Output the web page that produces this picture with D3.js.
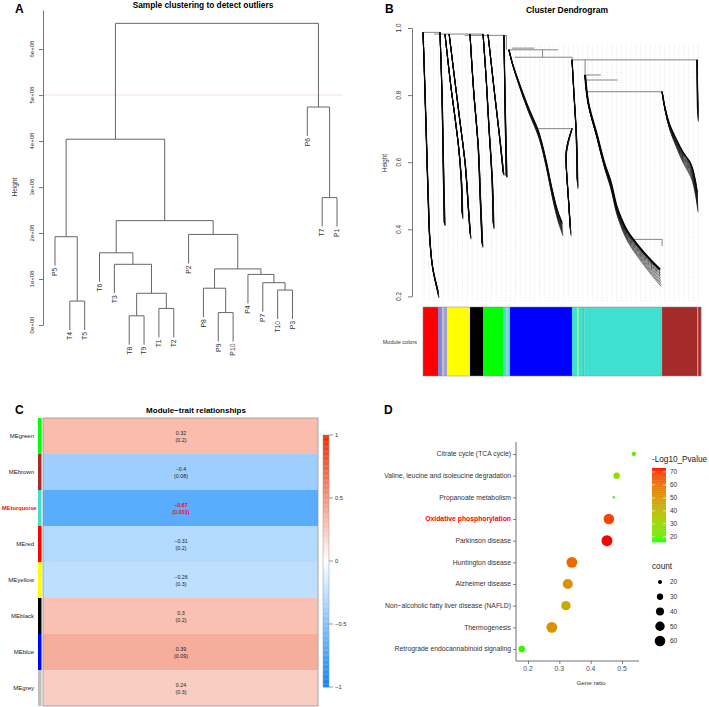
<!DOCTYPE html>
<html><head><meta charset="utf-8">
<script src="https://cdn.jsdelivr.net/npm/d3@7"></script>
<style>body{margin:0;background:#fff}svg{display:block}text{font-family:"Liberation Sans",Arial,sans-serif}</style>
</head><body>
<svg id="fig" width="709" height="707"></svg>
<script>
// ---------- Panel A data ----------
const sampleLabels = ["P5","T4","T5","T6","T3","T8","T9","T1","T2","P2","P8","P9","P10","P4","P7","T10","P3","P6","T7","P1"];
// merges: [left, right, height]; string = sample, number = earlier merge index
const sampleMerges = [
  ["T4","T5",0.52e8], [ "P5",0,1.92e8], ["T8","T9",0.20e8], ["T1","T2",0.36e8],
  [2,3,0.69e8], ["T3",4,1.32e8], ["T6",5,1.57e8], ["P9","P10",0.27e8],
  ["P8",7,0.80e8], ["T10","P3",0.76e8], ["P7",9,0.92e8], ["P4",10,1.10e8],
  [8,11,1.22e8], ["P2",12,1.97e8], [6,13,2.27e8], [1,14,4.04e8],
  ["T7","P1",2.77e8], ["P6",16,4.74e8], [15,17,6.56e8]
];
const sampleTicks = [0,1e8,2e8,3e8,4e8,5e8,6e8];
const cutHeight = 5e8;

// ---------- Panel B data (gene order 0..1000, height) ----------
const geneBranches = [
  [[0,0.987],[3.6,0.9],[10.8,0.7],[18,0.5],[25,0.36],[36,0.28],[47,0.24],[54,0.215]],
  [[61,0.987],[68,0.8],[72,0.6],[76,0.42]],
  [[79,0.982],[101,0.82],[126,0.66],[137,0.55],[140,0.45]],
  [[94,0.982],[112,0.86],[133,0.72],[151,0.6],[162,0.47],[169,0.39]],
  [[169,0.982],[183,0.8],[198,0.65],[205,0.5],[212,0.36]],
  [[216,0.982],[227,0.85],[237,0.7],[248,0.55],[252,0.42]],
  [[234,0.98],[255,0.82],[277,0.66],[288,0.57]],
  [[291,0.978],[295,0.75],[299,0.56]],
  [[309,0.935],[320,0.9],[342,0.845],[378,0.765],[414,0.695],[442,0.607],[464,0.52],[486,0.45],[500,0.42]],
  [[536,0.70],[514,0.62],[522,0.5],[529,0.41]],
  [[536,0.905],[543,0.8],[550,0.7],[554,0.55]],
  [[583,0.86],[594,0.78],[626,0.68],[655,0.59],[673,0.547],[701,0.457],[737,0.392],[781,0.344],[817,0.31],[853,0.28]],
  [[860,0.81],[871,0.76],[888,0.71],[910,0.67],[935,0.63],[960,0.6],[978,0.55],[986,0.51]],
  [[986,0.905],[986,0.85],[987,0.76]]
];
const geneSpread = [0.02,0.01,0.02,0.02,0.015,0.02,0.01,0.005,0.04,0.03,0.03,0.05,0.06,0.04];
const geneWidth = [1.1,0.9,0.9,0.9,1.1,0.9,0.9,0.9,1.2,0.9,0.9,2.0,1.4,1.0];
const geneHair = [3,2,3,3,3,3,2,2,5,5,4,5,7,4];       // typical hair length (px)
const hairPattern = [0.4,1,0.25,0.7,1.3,0.5,0.9,0.3,1.1,0.6];
const mergeH = [[0,61,0.987],[40,216,0.982],[150,300,0.978],[309,486,0.935],[320,400,0.94],[330,536,0.913],
  [536,986,0.905],[583,640,0.86],[583,700,0.845],[590,860,0.81],[414,536,0.70],[750,860,0.37]];
const mergeV = [[300,0.978,0.935],[430,0.935,0.913],[536,0.913,0.905],[583,0.905,0.86],[860,0.37,0.35]];
const moduleSegments = [
  [0,54,"#FF0000"],[54,68,"#8585d8"],[68,76,"#BEBEBE"],[76,86,"#9a9ae0"],[86,169,"#FFFF00"],
  [169,216,"#000000"],[216,288,"#00FF00"],[288,300,"#40E0D0"],[300,306,"#BEBEBE"],[306,313,"#40E0D0"],
  [313,536,"#0000FF"],[536,556,"#40E0D0"],[556,559,"#FFFF00"],[559,576,"#40E0D0"],[576,580,"#999999"],
  [580,590,"#40E0D0"],[590,860,"#40E0D0"],[860,986,"#A52A2A"],[986,990,"#FF7F3F"],[990,1000,"#A52A2A"]
];
const geneTicks = [0.2,0.4,0.6,0.8,1.0];

// ---------- Panel C data ----------
const traitModules = ["MEgreen","MEbrown","MEturquoise","MEred","MEyellow","MEblack","MEblue","MEgrey"];
const moduleSwatch = ["#00FF00","#A52A2A","#40E0D0","#FF0000","#FFFF00","#000000","#0000FF","#BEBEBE"];
const traitCor = [0.32,-0.4,-0.67,-0.31,-0.26,0.3,0.39,0.24];
const traitP = ["0.2","0.08","0.001","0.2","0.3","0.2","0.09","0.3"];
const corTicks = [1,0.5,0,-0.5,-1];

// ---------- Panel D data ----------
const pathways = ["Citrate cycle (TCA cycle)","Valine, leucine and isoleucine degradation","Propanoate metabolism",
  "Oxidative phosphorylation","Parkinson disease","Huntington disease","Alzheimer disease",
  "Non\u2212alcoholic fatty liver disease (NAFLD)","Thermogenesis","Retrograde endocannabinoid signaling"];
const geneRatio = [0.538,0.483,0.474,0.458,0.452,0.340,0.327,0.321,0.276,0.180];
const geneCount = [21,30,16,60,63,62,55,50,62,31];
const logP = [20,28,19,68,73,62,52,45,52,17];
const ratioTicks = [0.2,0.3,0.4,0.5];
const pTicks = [20,30,40,50,60,70];
const countTicks = [20,30,40,50,60];

const svg = d3.select("#fig");
const fmtMinus = s => String(s).replace("-","\u2212");

// ================= Panel A =================
{
  const g = svg.append("g");
  const yA = d3.scaleLinear().domain([0,6.85e8]).range([325,10]);
  const xA = d3.scalePoint().domain(sampleLabels).range([55,337]);
  const hang = 0.63e8;
  g.append("text").attr("x",15).attr("y",12.7).attr("font-size",12).attr("font-weight","bold").text("A");
  g.append("text").attr("x",203).attr("y",8).attr("text-anchor","middle").attr("font-size",8.3).attr("font-weight","bold").text("Sample clustering to detect outliers");
  g.append("line").attr("x1",43).attr("x2",343).attr("y1",yA(cutHeight)).attr("y2",yA(cutHeight)).attr("stroke","#f7d4d4").attr("stroke-width",0.8);
  const ax = g.append("g").attr("transform","translate(43,0)").call(d3.axisLeft(yA).tickValues(sampleTicks).tickSize(4).tickSizeOuter(0).tickFormat(()=>""));
  ax.selectAll("path,line").attr("stroke","#555").attr("stroke-width",0.8);
  sampleTicks.forEach(t=>{
    g.append("text").attr("transform",`translate(34,${yA(t)}) rotate(-90)`).attr("text-anchor","middle").attr("font-size",6).attr("fill","#333")
      .text(t===0?"0e+00":(t/1e8)+"e+08");
  });
  g.append("text").attr("transform","translate(17,187) rotate(-90)").attr("text-anchor","middle").attr("font-size",6.5).attr("fill","#333").text("Height");
  const nodeX=[], nodeH=[];
  const xOf = n => typeof n==="string" ? xA(n) : nodeX[n];
  sampleMerges.forEach(([a,b,h],i)=>{
    nodeX[i]=(xOf(a)+xOf(b))/2; nodeH[i]=h;
    [a,b].forEach(c=>{
      const t = typeof c==="string" ? h-hang : nodeH[c];
      g.append("line").attr("x1",xOf(c)).attr("x2",xOf(c)).attr("y1",yA(h)).attr("y2",yA(t)).attr("stroke","#666").attr("stroke-width",1);
      if (typeof c==="string")
        g.append("text").attr("transform",`translate(${xOf(c)+2.3},${yA(t)+2}) rotate(-90)`).attr("text-anchor","end")
          .attr("font-size",6.8).attr("fill","#333").text(c);
    });
    g.append("line").attr("x1",xOf(a)).attr("x2",xOf(b)).attr("y1",yA(h)).attr("y2",yA(h)).attr("stroke","#666").attr("stroke-width",1);
  });
}

// ================= Panel B =================
{
  const g = svg.append("g");
  const yB = d3.scaleLinear().domain([0.2,1]).range([296.4,28]);
  const xB = d3.scaleLinear().domain([0,1000]).range([423,701]);
  g.append("text").attr("x",385).attr("y",12.7).attr("font-size",12).attr("font-weight","bold").text("B");
  g.append("text").attr("x",567).attr("y",13).attr("text-anchor","middle").attr("font-size",8.5).attr("font-weight","bold").text("Cluster Dendrogram");
  const ax = g.append("g").attr("transform","translate(412,0)").call(d3.axisLeft(yB).tickValues(geneTicks).tickSize(4).tickSizeOuter(0).tickFormat(()=>""));
  ax.selectAll("path,line").attr("stroke","#555").attr("stroke-width",0.8);
  geneTicks.forEach(t=>{
    g.append("text").attr("transform",`translate(401,${yB(t)}) rotate(-90)`).attr("text-anchor","middle").attr("font-size",6.3).attr("fill","#333").text(t.toFixed(1));
  });
  g.append("text").attr("transform","translate(387,163) rotate(-90)").attr("text-anchor","middle").attr("font-size",6.3).attr("fill","#333").text("Height");
  // faint leaf guide lines
  d3.range(4,1000,17.3).forEach(v=>{
    g.append("line").attr("x1",xB(v)).attr("x2",xB(v)).attr("y1",yB(0.95)).attr("y2",yB(0.185))
      .attr("stroke","#d4d4d4").attr("stroke-width",0.6).attr("stroke-dasharray","1,1.5");
  });
  mergeH.forEach(([a,b,h])=>g.append("line").attr("x1",xB(a)).attr("x2",xB(b)).attr("y1",yB(h)).attr("y2",yB(h)).attr("stroke","#777").attr("stroke-width",0.9));
  mergeV.forEach(([x,h1,h2])=>g.append("line").attr("x1",xB(x)).attr("x2",xB(x)).attr("y1",yB(h1)).attr("y2",yB(h2)).attr("stroke","#777").attr("stroke-width",0.9));
  const line = d3.line().x(d=>xB(d[0])).y(d=>yB(d[1])).curve(d3.curveMonotoneY);
  geneBranches.forEach((pts,i)=>{
    const n = pts.length, K = 10;
    for (let k=K;k>=0;k--){
      const p = pts.map((d,j)=>[d[0]+k*0.35*(j/(n-1)), d[1]-geneSpread[i]*(k/K)*(j/(n-1))]);
      g.append("path").attr("d",line(p)).attr("fill","none").attr("stroke",k===0?"#000":"#151515")
        .attr("stroke-width",k===0?geneWidth[i]:0.55);
    }
    // hanging hairs along the branch
    const path = g.append("path").attr("d",line(pts)).attr("fill","none").attr("stroke","none").node();
    const L = path.getTotalLength();
    let c = 0;
    for (let s=2; s<L; s+=1.6, c++){
      const pt = path.getPointAtLength(s);
      const frac = s/L;
      const len = geneHair[i]*hairPattern[c%hairPattern.length]*(0.4+frac);
      g.append("line").attr("x1",pt.x+0.4).attr("x2",pt.x+0.4).attr("y1",pt.y).attr("y2",pt.y+len)
        .attr("stroke","#111").attr("stroke-width",0.45);
    }
  });
  moduleSegments.forEach(([a,b,c])=>g.append("rect").attr("x",xB(a)).attr("width",xB(b)-xB(a)+0.2).attr("y",307).attr("height",69).attr("fill",c));
  g.append("rect").attr("x",xB(0)).attr("y",307).attr("width",xB(1000)-xB(0)).attr("height",69).attr("fill","none").attr("stroke","#888").attr("stroke-width",0.5);
  g.append("text").attr("x",417).attr("y",344).attr("text-anchor","end").attr("font-size",5.5).attr("fill","#333").text("Module colors");
}

// ================= Panel C =================
{
  const g = svg.append("g");
  const color = d3.scaleLinear().domain([-1,0,1]).range(["rgb(9,133,250)","#ffffff","rgb(235,45,0)"]);
  const yC = d3.scaleBand().domain(traitModules).range([418,706]);
  g.append("text").attr("x",15).attr("y",414).attr("font-size",12).attr("font-weight","bold").text("C");
  g.append("text").attr("x",196).attr("y",413).attr("text-anchor","middle").attr("font-size",8).attr("font-weight","bold").text("Module\u2212trait relationships");
  traitModules.forEach((m,i)=>{
    const y = yC(m), h = yC.bandwidth();
    g.append("rect").attr("x",43).attr("y",y).attr("width",275).attr("height",h).attr("fill",color(traitCor[i]));
    g.append("rect").attr("x",38).attr("y",y).attr("width",3.5).attr("height",h).attr("fill",moduleSwatch[i]);
    const hi = m==="MEturquoise";
    g.append("text").attr("x",hi?36.5:34).attr("y",y+h/2+2).attr("text-anchor","end").attr("font-size",hi?5.7:6)
      .attr("font-weight",hi?"bold":"normal").attr("fill",hi?"#ff0000":"#222").text(m);
    g.append("text").attr("x",181).attr("y",y+h/2-1).attr("text-anchor","middle").attr("font-size",5.3)
      .attr("font-weight",hi?"bold":"normal").attr("fill",hi?"#ff0000":"#222").text(fmtMinus(traitCor[i]));
    g.append("text").attr("x",181).attr("y",y+h/2+5.5).attr("text-anchor","middle").attr("font-size",5.3)
      .attr("font-weight",hi?"bold":"normal").attr("fill",hi?"#ff0000":"#222").text(`(${traitP[i]})`);
  });
  g.append("rect").attr("x",43).attr("y",418).attr("width",275).attr("height",288).attr("fill","none").attr("stroke","#999").attr("stroke-width",0.8);
  // colour bar
  const yL = d3.scaleLinear().domain([1,-1]).range([435,687]);
  d3.range(-1,1,0.01).forEach(v=>g.append("rect").attr("x",323).attr("y",yL(v+0.01)).attr("width",6).attr("height",yL(v)-yL(v+0.01)+0.3).attr("fill",color(v+0.005)));
  g.append("rect").attr("x",323).attr("y",435).attr("width",6).attr("height",252).attr("fill","none").attr("stroke","#999").attr("stroke-width",0.5);
  corTicks.forEach(t=>{
    g.append("line").attr("x1",329).attr("x2",333).attr("y1",yL(t)).attr("y2",yL(t)).attr("stroke","#555").attr("stroke-width",0.6);
    g.append("text").attr("x",335).attr("y",yL(t)+2).attr("font-size",5.8).attr("fill","#333").text(fmtMinus(t));
  });
}

// ================= Panel D =================
{
  const g = svg.append("g");
  const xD = d3.scaleLinear().domain([0.2,0.5]).range([528,622]);
  const yD = d3.scalePoint().domain(pathways).range([454,649]);
  const col = d3.scaleLinear().domain([16,73]).range(["#00ff00","#ff0000"]).interpolate(d3.interpolateLab);
  const rad = d3.scaleRadial().domain([20,60]).range([2,5.3]);
  g.append("text").attr("x",384).attr("y",414).attr("font-size",12).attr("font-weight","bold").text("D");
  const ya = g.append("g").attr("transform","translate(516,0)").call(d3.axisLeft(yD).tickSize(3).tickSizeOuter(0).tickFormat(()=>""));
  ya.select(".domain").remove();
  ya.selectAll("line").attr("stroke","#333").attr("stroke-width",0.6);
  g.append("line").attr("x1",516).attr("x2",516).attr("y1",442).attr("y2",661).attr("stroke","#333").attr("stroke-width",0.7);
  g.append("line").attr("x1",516).attr("x2",639).attr("y1",661).attr("y2",661).attr("stroke","#333").attr("stroke-width",0.7);
  const xa = g.append("g").attr("transform","translate(0,661)").call(d3.axisBottom(xD).tickValues(ratioTicks).tickSize(3).tickSizeOuter(0).tickFormat(()=>""));
  xa.select(".domain").remove();
  xa.selectAll("line").attr("stroke","#333").attr("stroke-width",0.6);
  ratioTicks.forEach(t=>g.append("text").attr("x",xD(t)).attr("y",671).attr("text-anchor","middle").attr("font-size",6.8).attr("fill","#4d4d4d").text(t.toFixed(1)));
  pathways.forEach((p,i)=>{
    const hi = p==="Oxidative phosphorylation";
    g.append("text").attr("x",511).attr("y",yD(p)+2.4).attr("text-anchor","end").attr("font-size",6.8)
      .attr("font-weight",hi?"bold":"normal").attr("fill",hi?"#ff0000":"#333").text(p);
  });
  g.append("text").attr("x",591).attr("y",685).attr("text-anchor","middle").attr("font-size",6.2).attr("fill","#333").text("Gene ratio");
  pathways.forEach((p,i)=>g.append("circle").attr("cx",xD(geneRatio[i])).attr("cy",yD(p)).attr("r",rad(geneCount[i])).attr("fill",col(logP[i])));
  // colour legend
  g.append("text").attr("x",652).attr("y",462).attr("font-size",8.2).attr("fill","#222").text("-Log10_Pvalue");
  const yP = d3.scaleLinear().domain([73,16]).range([468,542]);
  d3.range(16,73,0.5).forEach(v=>g.append("rect").attr("x",652).attr("y",yP(v+0.5)).attr("width",14).attr("height",yP(v)-yP(v+0.5)+0.3).attr("fill",col(v+0.25)));
  pTicks.forEach(t=>{
    g.append("line").attr("x1",652).attr("x2",655).attr("y1",yP(t)).attr("y2",yP(t)).attr("stroke","#fff").attr("stroke-width",0.6);
    g.append("line").attr("x1",663).attr("x2",666).attr("y1",yP(t)).attr("y2",yP(t)).attr("stroke","#fff").attr("stroke-width",0.6);
    g.append("text").attr("x",670).attr("y",yP(t)+2.3).attr("font-size",6.5).attr("fill","#333").text(t);
  });
  // size legend
  g.append("text").attr("x",652).attr("y",569).attr("font-size",8.2).attr("fill","#222").text("count");
  const yS = d3.scalePoint().domain(countTicks).range([582,641]);
  countTicks.forEach(c=>{
    g.append("circle").attr("cx",660).attr("cy",yS(c)).attr("r",rad(c)).attr("fill","#000");
    g.append("text").attr("x",670).attr("y",yS(c)+2.3).attr("font-size",6.5).attr("fill","#333").text(c);
  });
}
</script>
</body></html>
